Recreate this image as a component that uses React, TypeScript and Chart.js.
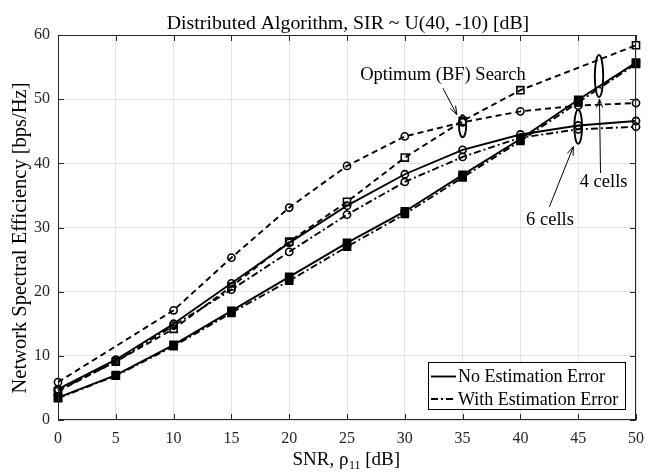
import React, { useEffect, useRef } from "react";
import { Chart, registerables } from "chart.js";
Chart.register(...registerables);

const snr = [0, 5, 10, 15, 20, 25, 30, 35, 40, 45, 50];
const opt6 = [5.9, null, 17.1, 25.3, 33.1, 39.6, 44.2, 46.4, 48.1, 49.0, 49.4];
const opt4 = [4.5, 9.1, 14.2, 20.8, 27.8, 34.0, 40.9, 46.6, 51.4, null, 58.4];
const noErr6 = [4.8, 9.4, 15.0, 21.3, 27.6, 33.4, 38.3, 42.1, 44.5, 45.9, 46.6];
const withErr6 = [4.6, 9.1, 14.7, 20.3, 26.2, 32.0, 37.1, 41.0, 44.0, 45.3, 45.7];
const noErr4 = [3.5, 7.0, 11.7, 17.0, 22.3, 27.6, 32.5, 38.2, 43.8, 49.9, 55.7];
const withErr4 = [3.4, 6.9, 11.5, 16.7, 21.7, 27.0, 32.1, 37.8, 43.5, 49.5, 55.5];

const xTicks = [0, 5, 10, 15, 20, 25, 30, 35, 40, 45, 50];
const yTicks = [0, 10, 20, 30, 40, 50, 60];

const titleText = "Distributed Algorithm, SIR ~ U(40, -10) [dB]";
const yTitle = "Network Spectral Efficiency [bps/Hz]";
const legendLabels = ["No Estimation Error", "With Estimation Error"];

const SERIF = '"Liberation Serif", "Times New Roman", serif';
const DARK = "#262626";
const SOLID: number[] = [];
const DASH = [6, 4];
const DASHDOT = [7, 3, 2, 3];

function pts(vals: (number | null)[]) {
  return snr.map((x, i) => ({ x, y: vals[i] }));
}

function ds(vals: (number | null)[], dash: number[], style: string, filled: boolean) {
  return {
    data: pts(vals),
    borderColor: "#000",
    borderWidth: 1.9,
    borderDash: dash,
    pointStyle: style,
    pointRadius: style === "rect" ? 5 : 3.6,
    pointBorderWidth: 1.6,
    pointBorderColor: "#000",
    pointBackgroundColor: filled ? "#000" : "rgba(0,0,0,0)",
    fill: false,
    tension: 0,
    spanGaps: true,
    clip: false as any,
  };
}

function arrow(ctx: CanvasRenderingContext2D, x1: number, y1: number, x2: number, y2: number) {
  ctx.beginPath();
  ctx.moveTo(x1, y1);
  ctx.lineTo(x2, y2);
  ctx.stroke();
  const ang = Math.atan2(y2 - y1, x2 - x1);
  const L = 9;
  const s = 0.35;
  ctx.beginPath();
  ctx.moveTo(x2 - L * Math.cos(ang - s), y2 - L * Math.sin(ang - s));
  ctx.lineTo(x2, y2);
  ctx.lineTo(x2 - L * Math.cos(ang + s), y2 - L * Math.sin(ang + s));
  ctx.stroke();
}

const overlay = {
  id: "overlay",
  afterDraw(chart: any) {
    const { ctx, chartArea: a, scales } = chart;
    const x = scales.x;
    const y = scales.y;
    ctx.save();
    // box
    ctx.strokeStyle = DARK;
    ctx.lineWidth = 1;
    ctx.setLineDash([]);
    ctx.strokeRect(Math.round(a.left) + 0.5, Math.round(a.top) + 0.5, Math.round(a.right - a.left) - 1, Math.round(a.bottom - a.top) - 1);
    // inner ticks
    ctx.beginPath();
    for (const v of xTicks) {
      const px = Math.round(x.getPixelForValue(v)) + 0.5;
      ctx.moveTo(px, a.bottom);
      ctx.lineTo(px, a.bottom - 6);
      ctx.moveTo(px, a.top);
      ctx.lineTo(px, a.top + 6);
    }
    for (const v of yTicks) {
      const py = Math.round(y.getPixelForValue(v)) + 0.5;
      ctx.moveTo(a.left, py);
      ctx.lineTo(a.left + 6, py);
      ctx.moveTo(a.right, py);
      ctx.lineTo(a.right - 6, py);
    }
    ctx.stroke();

    // title
    ctx.fillStyle = "#000";
    ctx.font = `19.8px ${SERIF}`;
    ctx.textAlign = "center";
    ctx.textBaseline = "alphabetic";
    ctx.fillText(titleText, (a.left + a.right) / 2 + 1, 29);

    // y title
    ctx.save();
    ctx.translate(21, 238);
    ctx.rotate(-Math.PI / 2);
    ctx.textBaseline = "middle";
    ctx.font = `20.5px ${SERIF}`;
    ctx.fillText(yTitle, 0, 0);
    ctx.restore();

    // x title with subscript
    ctx.font = `19px ${SERIF}`;
    const p1 = "SNR, \u03C1";
    const sub = "11";
    const p2 = " [dB]";
    const w1 = ctx.measureText(p1).width;
    const w3 = ctx.measureText(p2).width;
    ctx.font = `12px ${SERIF}`;
    const w2 = ctx.measureText(sub).width;
    const total = w1 + w2 + w3;
    const sx = 346 - total / 2;
    const by = 465;
    ctx.textAlign = "left";
    ctx.font = `19px ${SERIF}`;
    ctx.fillText(p1, sx, by);
    ctx.font = `12px ${SERIF}`;
    ctx.fillText(sub, sx + w1 + 0.5, by + 4);
    ctx.font = `19px ${SERIF}`;
    ctx.fillText(p2, sx + w1 + w2 + 0.5, by);

    // annotations
    ctx.lineWidth = 1.9;
    ctx.strokeStyle = "#000";
    const ell = (vx: number, vy: number, rx: number, ry: number) => {
      ctx.beginPath();
      ctx.ellipse(x.getPixelForValue(vx), y.getPixelForValue(vy), rx, ry, 0, 0, Math.PI * 2);
      ctx.stroke();
    };
    ell(35, 45.8, 3.6, 11);
    ell(46.8, 53.6, 4.2, 21);
    ell(45, 45.7, 3.9, 17);

    ctx.lineWidth = 1;
    const arr = (ax: number, ay: number, bx: number, by2: number) =>
      arrow(ctx, x.getPixelForValue(ax), y.getPixelForValue(ay), x.getPixelForValue(bx), y.getPixelForValue(by2));
    arr(33.3, 51.7, 34.5, 47.6);
    arr(46.93, 38.5, 46.84, 50.0);
    arr(42.5, 33.2, 44.58, 42.6);

    ctx.font = `18.5px ${SERIF}`;
    ctx.textAlign = "center";
    ctx.textBaseline = "middle";
    ctx.fillStyle = "#000";
    ctx.fillText("Optimum (BF) Search", x.getPixelForValue(33.3), y.getPixelForValue(53.7));
    ctx.fillText("4 cells", x.getPixelForValue(47.2), y.getPixelForValue(37.0));
    ctx.fillText("6 cells", x.getPixelForValue(42.56), y.getPixelForValue(31.2));

    // legend
    const lx = 428, ly = 362, lw = 197, lh = 47;
    ctx.fillStyle = "#fff";
    ctx.fillRect(lx, ly, lw, lh);
    ctx.strokeStyle = "#000";
    ctx.lineWidth = 1;
    ctx.setLineDash([]);
    ctx.strokeRect(lx + 0.5, ly + 0.5, lw, lh);
    const rows = [
      { label: legendLabels[0], dash: SOLID, yy: ly + 14.5 },
      { label: legendLabels[1], dash: DASHDOT, yy: ly + 37 },
    ];
    ctx.textAlign = "left";
    ctx.font = `18px ${SERIF}`;
    for (const r of rows) {
      ctx.lineWidth = 1.9;
      ctx.setLineDash(r.dash);
      ctx.beginPath();
      ctx.moveTo(lx + 3, r.yy);
      ctx.lineTo(lx + 28, r.yy);
      ctx.stroke();
      ctx.setLineDash([]);
      ctx.fillStyle = "#000";
      ctx.fillText(r.label, lx + 30, r.yy + 1);
    }
    ctx.restore();
  },
};

export default function App() {
  const ref = useRef<HTMLCanvasElement>(null);
  useEffect(() => {
    if (!ref.current) return;
    const chart = new Chart(ref.current, {
      type: "line",
      data: {
        datasets: [
          ds(opt6, DASH, "circle", false),
          ds(opt4, DASH, "rect", false),
          ds(noErr6, SOLID, "circle", false),
          ds(withErr6, DASHDOT, "circle", false),
          ds(noErr4, SOLID, "rect", true),
          ds(withErr4, DASHDOT, "rect", true),
        ] as any,
      },
      options: {
        animation: false,
        responsive: false,
        layout: { padding: { top: 35, right: 21, left: 0, bottom: 0 } },
        plugins: { legend: { display: false }, tooltip: { enabled: false }, title: { display: false } },
        scales: {
          x: {
            type: "linear",
            min: 0,
            max: 50,
            afterFit: (s: any) => { s.height = 52; },
            afterBuildTicks: (s: any) => { s.ticks = xTicks.map((v) => ({ value: v })); },
            grid: { color: "#e3e3e3", lineWidth: 1, drawTicks: false },
            border: { display: false },
            ticks: { color: DARK, font: { family: SERIF, size: 16 }, padding: 9, maxRotation: 0 },
          },
          y: {
            type: "linear",
            min: 0,
            max: 60,
            afterFit: (s: any) => { s.width = 58; },
            afterBuildTicks: (s: any) => { s.ticks = yTicks.map((v) => ({ value: v })); },
            grid: { color: "#e3e3e3", lineWidth: 1, drawTicks: false },
            border: { display: false },
            ticks: { color: DARK, font: { family: SERIF, size: 16 }, padding: 8 },
          },
        },
      } as any,
      plugins: [overlay],
    });
    return () => chart.destroy();
  }, []);
  return (
    <div style={{ position: "fixed", left: 0, top: 0, width: 657, height: 472, background: "#fff" }}>
      <canvas ref={ref} width={657} height={472} style={{ display: "block", width: 657, height: 472 }} />
    </div>
  );
}
